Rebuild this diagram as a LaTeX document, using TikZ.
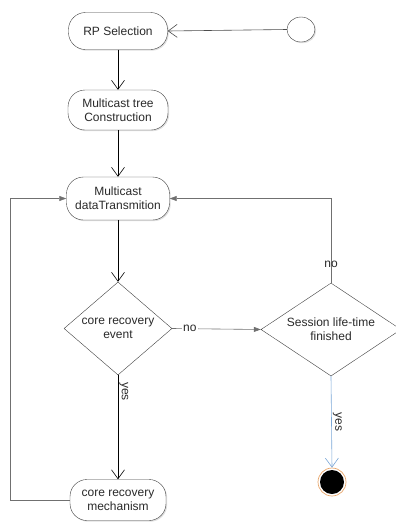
\documentclass[tikz,border=0pt]{standalone}
\usepackage{fontspec}
\setmainfont{Liberation Sans}
\usetikzlibrary{arrows.meta,shapes.geometric,shadows}
\definecolor{linegray}{HTML}{707070}
\definecolor{flowblue}{HTML}{7BA7D7}
\definecolor{ringorange}{HTML}{E8A56A}
\definecolor{txt}{HTML}{2A2A2A}
\begin{document}
\begin{tikzpicture}[x=1pt,y=-1pt,
  font=\fontsize{12}{14}\selectfont,
  activity/.style={draw=black!75, fill=white, rounded corners=17pt, align=center,
    inner sep=0pt, text=txt,
    drop shadow={opacity=0.25, shadow xshift=1.2pt, shadow yshift=-1.2pt}},
  decision/.style={diamond, draw=black!75, fill=white, align=center, inner sep=0pt, text=txt},
  flow/.style={draw=black, line width=0.6pt, -{Straight Barb[length=9pt,width=13pt]}},
  back/.style={draw=linegray, line width=0.6pt, -{Triangle[length=7pt,width=5pt]}},
  done/.style={draw=flowblue, line width=0.6pt, -{Straight Barb[length=9pt,width=13pt]}},
  lbl/.style={text=txt, inner sep=1pt},
]
\useasboundingbox (0,0) rectangle (396,523);

% activities
\node[activity, minimum width=99pt, minimum height=37pt] (rp) at (118,31) {RP Selection};
\node[activity, minimum width=100pt, minimum height=40pt] (tree) at (118,110) {Multicast tree\\Construction};
\node[activity, minimum width=103pt, minimum height=43pt] (data) at (118,198.5) {Multicast\\dataTransmition};
\node[activity, minimum width=96pt, minimum height=41pt] (mech) at (118,500) {core recovery\\mechanism};

% decisions
\node[decision, aspect=1.16, minimum width=108pt, minimum height=93pt] (core) at (118,328.5) {core recovery\\event};
\node[decision, aspect=1.5, minimum width=140pt, minimum height=93pt] (sess) at (331,329.5) {Session life-time\\finished};

% start and final states
\node[ellipse, draw=black!75, fill=white, minimum width=28pt, minimum height=25pt, inner sep=0pt,
  drop shadow={opacity=0.25, shadow xshift=1.2pt, shadow yshift=-1.2pt}] (start) at (301,29.5) {};
\node[circle, draw=ringorange, line width=0.7pt, fill=white, minimum size=28pt, inner sep=0pt] (endc) at (332,482) {};
\fill[black] (endc.center) circle[radius=12pt];

% main flow
\draw[flow, draw=black!70] (start.west) -- (rp.east);
\draw[flow] (rp) -- (tree);
\draw[flow] (tree) -- (data);
\draw[flow] (data) -- (core);
\draw[flow] (core.south) -- node[pos=0.155, rotate=-90, anchor=south, lbl] {yes} (mech.north);

% branches
\draw[back] (core.east) -- node[pos=0.2, fill=white, lbl] {no} (sess.west);
\draw[back] (sess.north) |- node[pos=0.107, lbl] {no} (data.east);
\coordinate (lc) at (10,500);
\draw[back] (mech.west) -- (lc) |- (data.west);
\draw[done] (sess.south) -- node[pos=0.5, rotate=-90, anchor=south, lbl] {yes} (endc.north);
\end{tikzpicture}
\end{document}
